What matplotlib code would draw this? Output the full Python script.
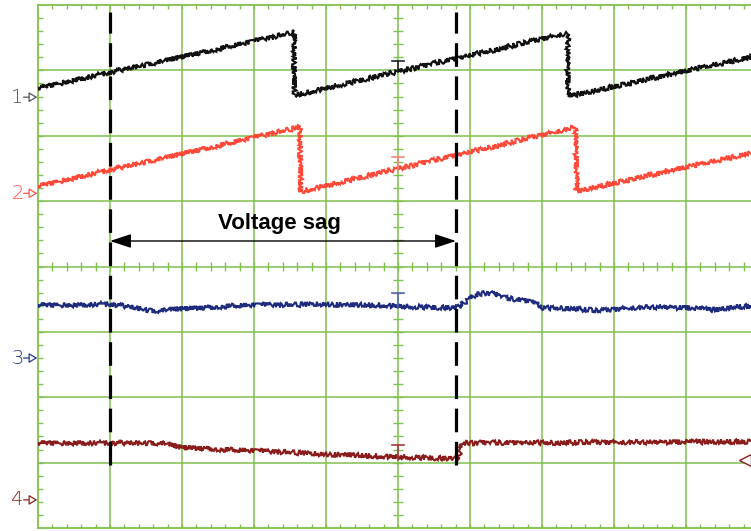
import matplotlib
matplotlib.use("Agg")
import matplotlib.pyplot as plt
from matplotlib.collections import LineCollection
from matplotlib.patches import FancyArrowPatch
import numpy as np

# ---------------- data (screen divisions: x 0..10, y -4..4) ----------------
ch1_t = [0.0, 3.56, 3.56, 7.36, 7.36, 10.0]
ch1_v = [2.73, 3.58, 2.62, 3.57, 2.60, 3.23]

ch2_t = [0.0, 3.64, 3.65, 7.47, 7.48, 10.0]
ch2_v = [1.23, 2.13, 1.15, 2.13, 1.15, 1.76]

ch3_t = [0.0, 0.583, 1.0, 1.278, 1.597, 1.903, 2.25, 2.667, 3.083, 3.5, 3.917,
         4.333, 4.75, 5.0, 5.306, 5.792, 5.861, 5.972, 6.069, 6.208, 6.347,
         6.486, 6.694, 6.903, 7.0, 7.389, 7.778, 8.222, 8.639, 9.056, 9.403,
         9.681, 10.0]
ch3_v = [-0.589, -0.589, -0.573, -0.619, -0.680, -0.650, -0.635, -0.604, -0.589,
         -0.589, -0.573, -0.589, -0.589, -0.604, -0.619, -0.635, -0.604, -0.512,
         -0.436, -0.405, -0.420, -0.482, -0.512, -0.543, -0.635, -0.635, -0.680,
         -0.635, -0.619, -0.635, -0.665, -0.619, -0.604]

ch4_t = [0.0, 1.0, 1.75, 2.0, 3.0, 4.0, 5.0, 5.79, 5.83, 5.89, 10.0]
ch4_v = [-2.70, -2.70, -2.70, -2.77, -2.82, -2.87, -2.91, -2.94, -2.96, -2.70, -2.68]

channel_labels = ["1", "2", "3", "4"]
label_levels = [2.59, 1.12, -1.40, -3.57]
marker_caps = [3.14, 1.67, -0.41, -2.73]
marker_feet = [2.97, 1.48, -0.62, -2.96]

cursor_x = [1.0, 5.805]
cursor_y = [-3.03, 3.90]
annotation_text = "Voltage sag"
trigger_level = -2.96

# ---------------- styling ----------------
GREEN = "#80c04e"
colors = ["#111111", "#ff4a3a", "#1f2b7c", "#8b1c1c"]
label_colors = ["#555555", "#ff5a4a", "#2b3a90", "#8b2323"]
marker_colors = ["#222222", "#f4887a", "#5866b0", "#a83a3a"]

fig = plt.figure(figsize=(7.51, 5.31), dpi=100)
ax = fig.add_axes([38 / 751, 3 / 531, 720 / 751, 523 / 531])
ax.set_xlim(0, 10)
ax.set_ylim(-4, 4)
ax.set_xticks([])
ax.set_yticks([])
for s in ax.spines.values():
    s.set_color(GREEN)
    s.set_linewidth(1.3)

# grid
for x in range(1, 10):
    ax.axvline(x, color=GREEN, lw=1.1, zorder=1)
for y in range(-3, 4):
    ax.axhline(y, color=GREEN, lw=1.1, zorder=1)

# minor ticks
segs = []
dx_h = 5 / 72.0   # 5 px in x-div
dy_v = 5 / 65.4   # 5 px in y-div
edge_y = 4 / 65.4
edge_x = 5 / 72.0
for k in range(1, 50):
    x = k * 0.2
    segs.append([(x, 4), (x, 4 - edge_y)])
    segs.append([(x, -4), (x, -4 + edge_y)])
    segs.append([(x, -dy_v), (x, dy_v)])
for k in range(1, 40):
    y = -4 + k * 0.2
    segs.append([(0, y), (edge_x, y)])
    segs.append([(5 - dx_h, y), (5 + dx_h, y)])
ax.add_collection(LineCollection(segs, colors=GREEN, linewidths=1.0, zorder=1))

# traces
for t, v, c in [(ch1_t, ch1_v, colors[0]), (ch2_t, ch2_v, colors[1]),
                (ch3_t, ch3_v, colors[2]), (ch4_t, ch4_v, colors[3])]:
    ln, = ax.plot(t, v, color=c, lw=1.5, zorder=3, solid_joinstyle="miter")
    ln.set_sketch_params(scale=2.4, length=1.8, randomness=2.5)

# level markers on centre line
cap = 6 / 72.0
for ytop, ybot, c in zip(marker_caps, marker_feet, marker_colors):
    ax.plot([5, 5], [ytop, ybot], color=c, lw=1.2, zorder=4)
    ax.plot([5 - cap, 5 + cap], [ytop, ytop], color=c, lw=1.2, zorder=4)

# trigger level marker at right edge
ax.plot([(745 - 38) / 72.0], [trigger_level], marker="<", ms=8, mfc="white",
        mec=colors[3], mew=1.0, zorder=5, clip_on=False)

# dashed cursors
for cx in cursor_x:
    ax.plot([cx, cx], cursor_y, color="black", lw=2.3, zorder=5,
            linestyle=(0, (7.4, 3.0)))

# double arrow
arr = FancyArrowPatch((cursor_x[0], 0.39), (cursor_x[1], 0.39),
                      arrowstyle="<|-|>,head_length=1.3,head_width=0.43",
                      mutation_scale=10, color="black", lw=1.0,
                      shrinkA=0, shrinkB=0, zorder=6)
ax.add_patch(arr)
ax.text(3.36, 0.573, annotation_text, ha="center", va="baseline",
        fontsize=16, fontweight="bold", family="Liberation Sans", zorder=6)

# channel ground markers
for lab, y, c in zip(channel_labels, label_levels, label_colors):
    ax.text(-0.2, y, lab, ha="right", va="center", fontsize=14, color=c,
            family="DejaVu Sans", fontweight="light", clip_on=False)
    a = FancyArrowPatch((-0.2, y), (-0.01, y),
                        arrowstyle="-|>,head_length=0.5,head_width=0.3",
                        mutation_scale=10, facecolor="white", edgecolor=c,
                        lw=0.9, shrinkA=0, shrinkB=0, clip_on=False)
    ax.add_patch(a)

fig.savefig("out.png", dpi=100)
